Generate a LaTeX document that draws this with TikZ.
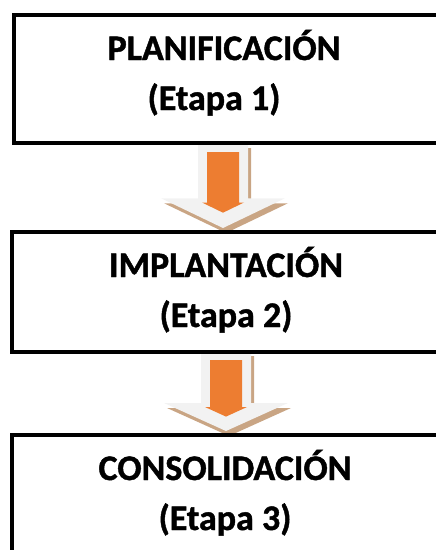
\documentclass[tikz,border=0pt]{standalone}
\usepackage{fontspec}
\setmainfont{Carlito}[BoldFeatures={FakeBold=1.2}]
\definecolor{flecha}{HTML}{ED7D31}
\definecolor{sombra}{HTML}{C9A584}
\definecolor{fondo}{HTML}{F2F2F2}
\begin{document}
\begin{tikzpicture}[
    x=1pt, y=-1pt,
    caja/.style={rectangle, draw, line width=4pt, minimum width=435pt, anchor=north west, inner sep=0pt},
    txt/.style={anchor=base, inner sep=0pt, font=\fontsize{36}{42}\selectfont\bfseries}
  ]
    \useasboundingbox (0,0) rectangle (436,550);

    % Flechas entre etapas (sombra, fondo y flecha naranja)
    \foreach \cx/\yt/\len in {223/143/85, 226/351/80} {
      \foreach \dx/\dy/\col in {3/5/sombra, 0/0/fondo} {
        \fill[\col, shift={(\dx,\dy)}] (\cx-25,\yt) -- (\cx+25,\yt) -- (\cx+25,\yt+0.65*\len)
          -- (\cx+62,\yt+0.65*\len) -- (\cx,\yt+\len) -- (\cx-62,\yt+0.65*\len)
          -- (\cx-25,\yt+0.65*\len) -- cycle;
      }
      \fill[flecha] (\cx-16,\yt+9) -- (\cx+16,\yt+9) -- (\cx+16,\yt+0.70*\len)
        -- (\cx+21,\yt+0.70*\len) -- (\cx,\yt+0.82*\len) -- (\cx-21,\yt+0.70*\len)
        -- (\cx-16,\yt+0.70*\len) -- cycle;
    }

    % Cajas de las etapas
    \node[caja, minimum height=128pt] (e1) at (12,13) {};
    \node[caja, minimum height=120pt] (e2) at (10,229.5) {};
    \node[caja, minimum height=130pt] (e3) at (10,433) {};

    % Textos
    \node[txt] (t1a) at (224,60) {PLANIFICACIÓN};
    \node[txt] (t1b) at (214,110) {(Etapa 1)};
    \node[txt] (t2a) at (226,277) {IMPLANTACIÓN};
    \node[txt] (t2b) at (226,327) {(Etapa 2)};
    \node[txt] (t3a) at (225,480) {CONSOLIDACIÓN};
    \node[txt] (t3b) at (225,530) {(Etapa 3)};
\end{tikzpicture}
\end{document}
